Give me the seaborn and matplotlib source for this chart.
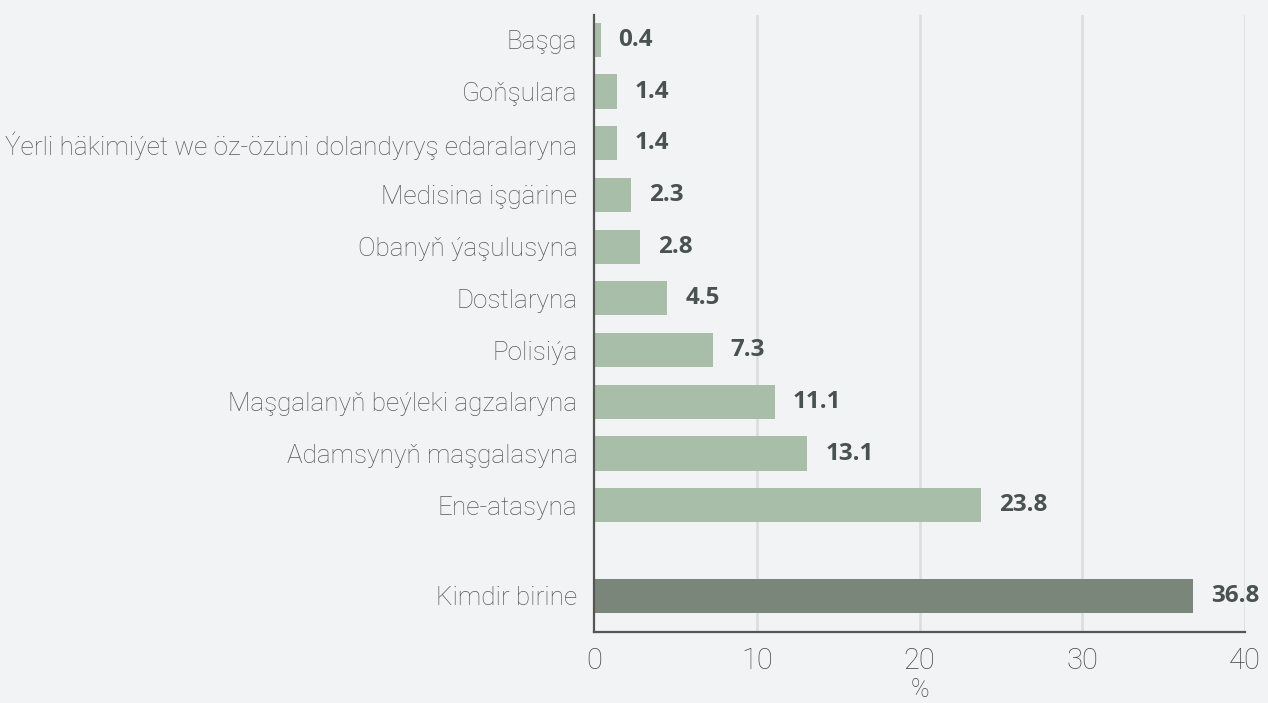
import matplotlib
matplotlib.use("Agg")
import matplotlib.pyplot as plt
import seaborn as sns
import numpy as np
import pandas as pd

categories = [
    "Başga",
    "Goňşulara",
    "Ýerli häkimiýet we öz-özüni dolandyryş edaralaryna",
    "Medisina işgärine",
    "Obanyň ýaşulusyna",
    "Dostlaryna",
    "Polisiýa",
    "Maşgalanyň beýleki agzalaryna",
    "Adamsynyň maşgalasyna",
    "Ene-atasyna",
    "Kimdir birine",
]
values = [0.4, 1.4, 1.4, 2.3, 2.8, 4.5, 7.3, 11.1, 13.1, 23.8, 36.8]
groups = ["detail"] * 10 + ["total"]
x_ticks = [0, 10, 20, 30, 40]
x_label = "%"

bg = "#f2f3f5"
sns.set_theme(style="white")
plt.rcParams["font.family"] = ["Roboto", "DejaVu Sans"]

# positions: detail rows one per slot, total row after a gap
pos = [float(i) for i in range(10)] + [10.75]
df = pd.DataFrame({"cat": categories, "val": values, "grp": groups, "pos": pos})

fig = plt.figure(figsize=(12.68, 7.03), dpi=100, facecolor=bg)
ax = fig.add_axes([0.4685, 0.101, 0.9819 - 0.4685, 0.9787 - 0.101])
ax.set_facecolor(bg)

sns.barplot(data=df, x="val", y="pos", hue="grp", orient="h", native_scale=True,
            palette={"detail": "#a9bea9", "total": "#7b867b"}, width=0.66,
            legend=False, ax=ax, saturation=1, zorder=3, linewidth=0, edgecolor="none")

ax.set_xlim(0, 40)
ax.set_ylim(11.45, -0.48)
ax.set_xticks(x_ticks)
ax.set_xticklabels([str(t) for t in x_ticks], fontsize=21, color="#454a4a",
                   fontweight="light")
ax.set_yticks(pos)
ax.set_yticklabels(categories, fontsize=18.8, color="#555a5a", fontweight="light")
ax.tick_params(axis="x", length=0, pad=11)
ax.tick_params(axis="y", length=0, pad=12)
ax.set_xlabel(x_label, fontsize=18, color="#454a4a", labelpad=2, fontweight="light")
ax.set_ylabel("")

for v in x_ticks[1:]:
    ax.axvline(v, color="#dcdcdc", lw=1.8, zorder=1)

for s in ["top", "right"]:
    ax.spines[s].set_visible(False)
for s in ["left", "bottom"]:
    ax.spines[s].set_color("#555555")
    ax.spines[s].set_linewidth(1.6)
    ax.spines[s].set_zorder(4)

for p, v in zip(pos, values):
    ax.annotate(f"{v}", xy=(v, p), xytext=(18, 0), textcoords="offset pixels",
                va="center", ha="left", fontsize=17.5, fontweight="bold",
                color="#4a5250", fontfamily=["Open Sans", "DejaVu Sans"], annotation_clip=False)

fig.savefig("out.png", dpi=100, facecolor=bg)
